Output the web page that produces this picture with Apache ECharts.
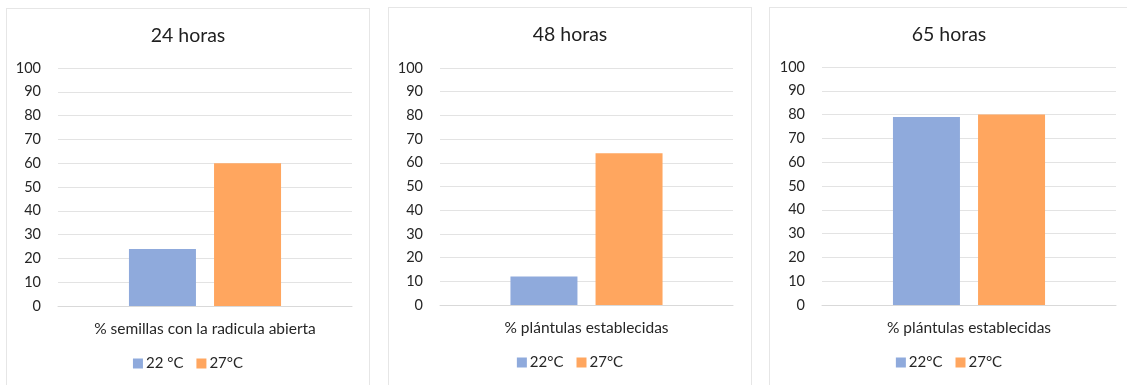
<!DOCTYPE html>
<html>
<head>
<meta charset="utf-8">
<script src="https://cdn.jsdelivr.net/npm/echarts@6/dist/echarts.min.js"></script>
<style>
  html, body { margin: 0; padding: 0; background: #fff; }
  body { width: 1127px; height: 385px; position: relative; overflow: hidden; }
  .panel { position: absolute; border: 1px solid #E6E6E6; box-sizing: border-box; background: #fff; }
</style>
</head>
<body>
<div id="p1" class="panel" style="left:6px;top:8px;width:364px;height:385px;"></div>
<div id="p2" class="panel" style="left:388px;top:7px;width:364px;height:385px;"></div>
<div id="p3" class="panel" style="left:769px;top:7px;width:360px;height:385px;"></div>
<script>
// Germination results at two temperatures, three time points
const titles = ['24 horas', '48 horas', '65 horas'];
const categories = [
  ['% semillas con la radicula abierta'],
  ['% plántulas establecidas'],
  ['% plántulas establecidas']
];
const seriesNames = [
  ['22 °C', '27°C'],
  ['22°C', '27°C'],
  ['22°C', '27°C']
];
const values22 = [24, 12, 79];
const values27 = [60, 64, 80];
const yTicks = [0, 10, 20, 30, 40, 50, 60, 70, 80, 90, 100];

const colors = ['#8FAADC', '#FFA65F'];
const FONT = 'Lato, "Open Sans", sans-serif';
const TEXT = '#262626';

// plot-area offsets inside each panel
const grids = [
  { left: 51, right: 17, top: 59, bottom: 86 },
  { left: 51, right: 18, top: 60, bottom: 86 },
  { left: 52, right: 12, top: 59, bottom: 86 }
];

['p1', 'p2', 'p3'].forEach((id, i) => {
  const chart = echarts.init(document.getElementById(id), null, { renderer: 'canvas' });
  chart.setOption({
    animation: false,
    color: colors,
    title: {
      text: titles[i],
      left: 'center',
      top: 12,
      textStyle: { fontFamily: FONT, fontSize: 19.5, fontWeight: 'normal', color: '#1F1F1F' }
    },
    legend: {
      bottom: 16,
      left: 'center',
      itemWidth: 10,
      itemHeight: 10,
      itemGap: 13,
      icon: 'rect',
      textStyle: { fontFamily: FONT, fontSize: 15, color: TEXT, padding: [0, 0, 0, -2] },
      data: seriesNames[i]
    },
    grid: grids[i],
    xAxis: {
      type: 'category',
      data: categories[i],
      axisLine: { lineStyle: { color: '#D9D9D9' } },
      axisTick: { show: false },
      axisLabel: { fontFamily: FONT, fontSize: 15.5, color: TEXT, margin: 15 }
    },
    yAxis: {
      type: 'value',
      min: yTicks[0],
      max: yTicks[yTicks.length - 1],
      interval: yTicks[1] - yTicks[0],
      axisLine: { show: false },
      axisTick: { show: false },
      axisLabel: { fontFamily: FONT, fontSize: 14.5, color: TEXT, margin: 17 },
      splitLine: { lineStyle: { color: '#E3E3E3', width: 1 } }
    },
    series: [
      {
        name: seriesNames[i][0],
        type: 'bar',
        data: [values22[i]],
        barWidth: 67,
        barGap: '27%'
      },
      {
        name: seriesNames[i][1],
        type: 'bar',
        data: [values27[i]],
        barWidth: 67,
        barGap: '27%'
      }
    ]
  });
});
</script>
</body>
</html>
